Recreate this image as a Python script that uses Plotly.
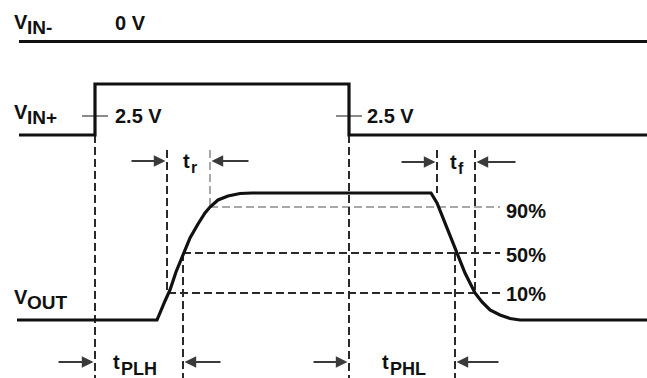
import plotly.graph_objects as go

W, H = 647, 378

# ---- waveforms (x = time axis, y = drawing level, grows downward) ----
vin_minus_t = [19, 647]
vin_minus_y = [41.5, 41.5]

vin_plus_t = [19, 95, 95, 349, 349, 647]
vin_plus_y = [135, 135, 84, 84, 135, 135]

vout_t = [17, 157, 165, 170, 176, 183, 190, 198, 205, 210, 218, 228, 240, 252,
          431, 437, 447, 457, 465, 475, 482, 490, 500, 510, 520, 647]
vout_y = [320, 320, 301, 290, 272, 254, 238, 224, 213, 207, 200, 196, 193.5, 193,
          193, 203, 228, 253, 273, 293, 302, 310, 315, 318.5, 320, 320]

# ---- threshold levels ----
threshold_labels = ["90%", "50%", "10%"]
threshold_y = [207, 253, 293]
threshold_label_y = [211, 255, 294]
threshold_start = [210, 183, 168]
threshold_end = 500
threshold_gray = [True, False, False]

# ---- vertical timing markers ----
marker_t = [95, 167, 210, 183, 349, 437, 475, 455]
marker_top = [135, 150, 150, 253, 135, 150, 150, 253]
marker_bottom = [378, 293, 207, 378, 378, 193, 293, 378]
marker_gray = [False, False, True, False, False, False, False, False]

# ---- 2.5 V crossing ticks ----
tick_t = [95, 349]
tick_y = 116
tick_half = 13
tick_labels = ["2.5 V", "2.5 V"]
tick_label_t = [114, 366]

# ---- interval annotations ----
interval_names = ["r", "f", "PLH", "PHL"]
interval_start = [167, 437, 95, 349]
interval_end = [210, 475, 183, 455]
interval_y = [161, 162, 362, 362]
interval_label_t = [182, 449, 112, 381]
arrow_left_from = [130, 400, 57, 312]
arrow_right_from = [250, 517, 222, 500]

# ---- signal names ----
signal_names = ["IN-", "IN+", "OUT"]
signal_y = [21.5, 111.5, 296.5]

BLACK = "#111111"
GRAY = "#a8a8a8"
DASH = "8px,4px"
FONT = "Liberation Sans"

fig = go.Figure()


def add_line(xs, ys, color=BLACK, width=3, dash="solid"):
    fig.add_trace(go.Scatter(x=xs, y=ys, mode="lines", hoverinfo="skip",
                             line=dict(color=color, width=width, dash=dash)))


def bold(size):
    return dict(family=FONT, size=size, color=BLACK, weight="bold")


# dashed threshold lines
for ty, ts, g in zip(threshold_y, threshold_start, threshold_gray):
    add_line([ts, threshold_end], [ty, ty], GRAY if g else "#2a2a2a", 2, DASH)

# dashed vertical markers
for mt, top, bot, g in zip(marker_t, marker_top, marker_bottom, marker_gray):
    add_line([mt, mt], [top, bot], GRAY if g else "#2a2a2a", 2, DASH)

# 2.5 V ticks
for tt in tick_t:
    add_line([tt - tick_half, tt + tick_half], [tick_y, tick_y], "#8a8a8a", 2)

# waveforms
add_line(vin_minus_t, vin_minus_y, width=3.2)
add_line(vin_plus_t, vin_plus_y, width=3.2)
add_line(vout_t, vout_y, width=3.2)

ann = []


def text(x, y, s, size, xanchor="left"):
    ann.append(dict(x=x, y=y, text=s, xanchor=xanchor, yanchor="middle",
                    showarrow=False, font=bold(size), borderpad=0))


text(114, 22.5, "0 V", 20)
for lab, lt in zip(tick_labels, tick_label_t):
    text(lt, tick_y, lab, 20)
for lab, ly in zip(threshold_labels, threshold_label_y):
    text(505, ly, lab, 20)

# signal names: V with subscript
for name, sy in zip(signal_names, signal_y):
    text(13, sy, "V", 20)
    text(26, sy + 5.5, name, 19)

# interval arrows and labels
for nm, a, b, iy, lx, lf, rf in zip(interval_names, interval_start, interval_end,
                                     interval_y, interval_label_t,
                                     arrow_left_from, arrow_right_from):
    ann.append(dict(x=a - 1.5, y=iy, ax=lf, ay=iy, axref="x", ayref="y",
                    xref="x", yref="y", text="", showarrow=True,
                    arrowhead=2, arrowsize=1.3, arrowwidth=1.8, arrowcolor="#3a3a3a"))
    ann.append(dict(x=b + 1.5, y=iy, ax=rf, ay=iy, axref="x", ayref="y",
                    xref="x", yref="y", text="", showarrow=True,
                    arrowhead=2, arrowsize=1.3, arrowwidth=1.8, arrowcolor="#3a3a3a"))
    text(lx, iy, "t", 20)
    text(lx + 7.5, iy + 6.5, nm, 16 if len(nm) == 1 else 18)

fig.update_layout(
    width=W, height=H,
    margin=dict(l=0, r=0, t=0, b=0),
    paper_bgcolor="white", plot_bgcolor="white",
    showlegend=False,
    xaxis=dict(range=[0, W], visible=False, fixedrange=True),
    yaxis=dict(range=[H, 0], visible=False, fixedrange=True),
    annotations=ann,
)

fig.write_html("out.html")
